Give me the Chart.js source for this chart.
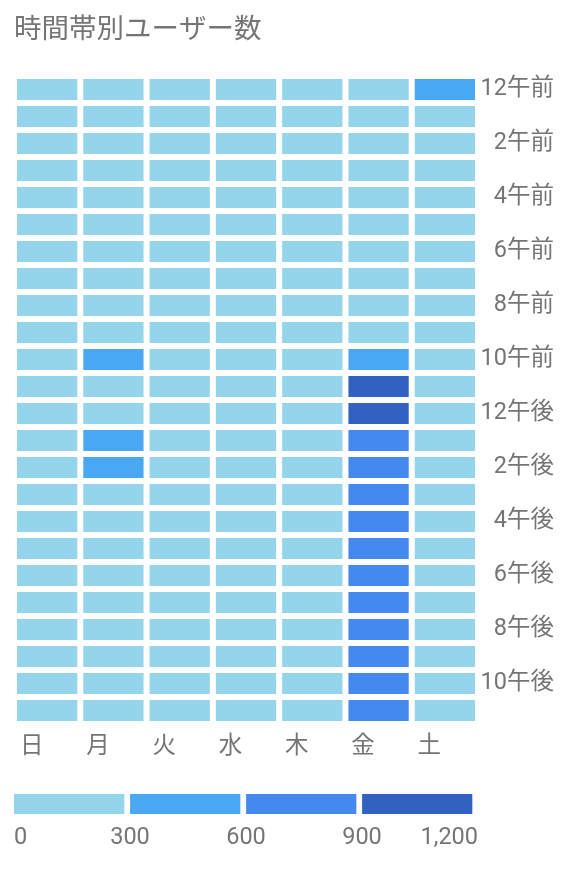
<!DOCTYPE html>
<html>
<head>
<meta charset="utf-8">
<script src="https://cdn.jsdelivr.net/npm/chart.js@4/dist/chart.umd.min.js"></script>
<style>
  html, body { margin: 0; padding: 0; background: #ffffff; }
  #wrap { position: relative; width: 588px; height: 872px; }
  #main { position: absolute; left: 0; top: 0; }
  #scale { position: absolute; left: 0; top: 770px; }
</style>
</head>
<body>
<div id="wrap">
  <canvas id="main" width="588" height="770"></canvas>
  <canvas id="scale" width="588" height="102"></canvas>
</div>
<script>
// ---- data ----
const titleText = '時間帯別ユーザー数';
const days = ['日', '月', '火', '水', '木', '金', '土'];
const hourLabels = [
  '12午前', '1午前', '2午前', '3午前', '4午前', '5午前', '6午前', '7午前', '8午前', '9午前', '10午前', '11午前',
  '12午後', '1午後', '2午後', '3午後', '4午後', '5午後', '6午後', '7午後', '8午後', '9午後', '10午後', '11午後'
];
// users per hour (index = hour row) for each weekday
const sun = [130, 95, 70, 55, 45, 40, 50, 75, 110, 160, 210, 230, 240, 235, 230, 220, 210, 205, 200, 195, 190, 180, 165, 140];
const mon = [120, 90, 70, 55, 45, 40, 55, 90, 150, 230, 410, 280, 270, 450, 430, 280, 260, 250, 240, 230, 220, 205, 185, 150];
const tue = [125, 90, 70, 55, 45, 40, 55, 95, 160, 220, 250, 260, 255, 265, 255, 245, 235, 225, 215, 210, 200, 190, 170, 145];
const wed = [120, 90, 70, 55, 45, 40, 55, 90, 155, 215, 245, 255, 250, 260, 250, 240, 230, 220, 215, 205, 195, 185, 170, 140];
const thu = [125, 95, 70, 55, 45, 40, 55, 90, 150, 210, 240, 250, 245, 255, 250, 240, 230, 225, 215, 205, 195, 185, 170, 145];
const fri = [130, 95, 75, 55, 45, 40, 55, 95, 160, 230, 470, 1080, 1120, 860, 840, 820, 800, 780, 760, 740, 720, 700, 680, 650];
const sat = [360, 110, 80, 60, 50, 45, 50, 70, 110, 160, 200, 215, 220, 225, 220, 215, 205, 200, 195, 190, 185, 180, 170, 155];
const dayValues = [sun, mon, tue, wed, thu, fri, sat];

// colour scale
const scaleTicks = [0, 300, 600, 900, 1200];
const scaleColors = ['#94D5EC', '#4AA8F2', '#4588F0', '#3361C1'];

// ---- helpers ----
const FONT = "Roboto, 'Noto Sans CJK JP', sans-serif";
const TEXT = '#757575';
const AXIS_SIZE = 23.5;
function colorFor(v) {
  for (let i = scaleColors.length - 1; i >= 0; i--) {
    if (v >= scaleTicks[i]) return scaleColors[i];
  }
  return scaleColors[0];
}

// ---- heatmap ----
const datasets = days.map((d, i) => ({
  label: d,
  data: hourLabels.map(() => 1),
  backgroundColor: dayValues[i].map(colorFor),
  borderColor: '#ffffff',
  borderWidth: { left: 3, right: 3, top: 0, bottom: 0 },
  borderSkipped: false,
  barPercentage: 21 / 27,
  categoryPercentage: 1
}));

new Chart(document.getElementById('main'), {
  type: 'bar',
  data: { labels: hourLabels, datasets },
  options: {
    indexAxis: 'y',
    responsive: false,
    animation: false,
    events: [],
    layout: { padding: { left: 14, right: 34, top: 0, bottom: 6 } },
    plugins: {
      legend: { display: false },
      tooltip: { enabled: false },
      title: {
        display: true,
        text: titleText,
        align: 'start',
        color: TEXT,
        font: { family: FONT, size: 27.5, weight: 'normal' },
        padding: { top: 15.1, bottom: 27.9 }
      }
    },
    scales: {
      x: { type: 'linear', stacked: true, min: 0, max: days.length, display: false },
      x2: {
        type: 'category',
        labels: days,
        position: 'bottom',
        offset: true,
        grid: { display: false, drawTicks: false },
        border: { display: false },
        ticks: { color: TEXT, font: { family: FONT, size: AXIS_SIZE }, padding: 9, labelOffset: -15.5, maxRotation: 0, autoSkip: false },
        afterFit: (s) => { s.height = 40; }
      },
      y: {
        type: 'category',
        stacked: true,
        position: 'right',
        grid: { display: false, drawTicks: false },
        border: { display: false },
        ticks: {
          color: TEXT,
          font: { family: FONT, size: AXIS_SIZE },
          crossAlign: 'far',
          padding: 3,
          autoSkip: false,
          callback: function (v, i) { return i % 2 === 0 ? hourLabels[i] : ''; }
        },
        afterFit: (s) => { s.width = 76; }
      }
    }
  }
});

// ---- colour scale legend ----
const scaleDatasets = scaleColors.map((c, i) => ({
  label: String(scaleTicks[i]),
  data: [scaleTicks[i + 1] - scaleTicks[i]],
  backgroundColor: c,
  borderColor: '#ffffff',
  borderWidth: { left: 0, right: 6, top: 0, bottom: 0 },
  borderSkipped: false,
  barPercentage: 1,
  categoryPercentage: 1
}));

new Chart(document.getElementById('scale'), {
  type: 'bar',
  data: { labels: [''], datasets: scaleDatasets },
  options: {
    indexAxis: 'y',
    responsive: false,
    animation: false,
    events: [],
    layout: { padding: { left: 14, right: 110, top: 24, bottom: 18 } },
    plugins: { legend: { display: false }, tooltip: { enabled: false } },
    scales: {
      y: { stacked: true, display: false },
      x: {
        type: 'linear',
        stacked: true,
        min: scaleTicks[0],
        max: scaleTicks[scaleTicks.length - 1],
        grid: { display: false, drawTicks: false },
        border: { display: false },
        afterBuildTicks: (s) => { s.ticks = scaleTicks.map(v => ({ value: v })); },
        ticks: {
          color: TEXT,
          font: { family: FONT, size: AXIS_SIZE },
          padding: 10,
          align: 'inner',
          maxRotation: 0,
          autoSkip: false,
          callback: (v) => Number(v).toLocaleString('en-US')
        },
        afterFit: (s) => { s.height = 40; }
      }
    }
  }
});
</script>
</body>
</html>
